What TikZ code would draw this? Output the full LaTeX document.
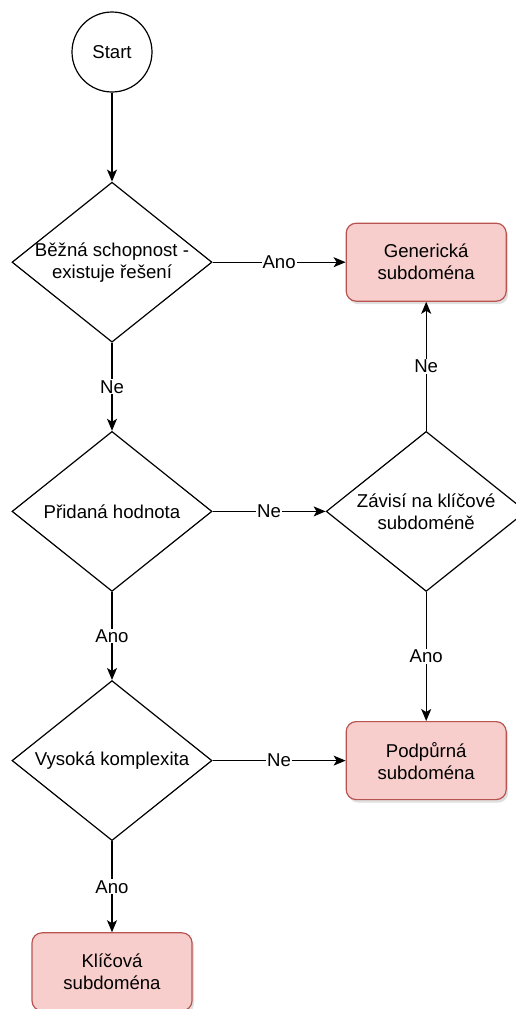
\documentclass[tikz,border=0pt]{standalone}
\usepackage{fontspec}
\setmainfont{Liberation Sans}
\usepackage{tikz}
\usetikzlibrary{positioning,shapes,arrows.meta,shadows}
\definecolor{boxfill}{HTML}{F8CECC}
\definecolor{boxline}{HTML}{B85450}
\tikzstyle{startnode}=[%
      circle, draw=black, line width=1.2pt, fill=white,
      minimum size=80pt, inner sep=0pt, align=center
]
\tikzstyle{question}=[%
      diamond, aspect=1.25, draw=black, line width=1.2pt, fill=white,
      minimum width=200pt, minimum height=160pt, inner sep=-12pt, align=center
]
\tikzstyle{subdomainbox}=[%
      rectangle, rounded corners=10pt, draw=boxline, line width=1.2pt, fill=boxfill,
      drop shadow={shadow xshift=2pt, shadow yshift=-3pt, opacity=0.25},
      minimum width=160pt, minimum height=78pt, inner sep=0pt, align=center
]
\tikzstyle{answer}=[fill=white, inner sep=1pt]

\begin{document}
\begin{tikzpicture}[x=1pt, y=-1pt,
    font=\fontsize{18.6}{22}\selectfont,
    line width=1.2pt,
    -{Stealth[length=12pt,width=10pt,inset=3pt]}
  ]
    \useasboundingbox (0,0) rectangle (515,1009);

    \node[startnode] (start) at (112,52) {Start};
    \node[question] (common)   [below = 89pt of start]  {Běžná schopnost -\\existuje řešení};
    \node[question] (value)    [below = 88pt of common] {Přidaná hodnota};
    \node[question] (complex)  [below = 88pt of value]  {Vysoká komplexita};
    \node[subdomainbox] (core)     [below = 91pt of complex] {Klíčová\\subdoména};
    \node[subdomainbox] (generic)  [right = 133pt of common] {Generická\\subdoména};
    \node[question] (depends)  [right = 113pt of value]  {Závisí na klíčové\\subdoméně};
    \node[subdomainbox] (support)  [right = 133pt of complex] {Podpůrná\\subdoména};

    \path (start) edge (common)
          (common) edge node[answer] {Ano} (generic)
          (common) edge node[answer] {Ne} (value)
          (value) edge node[answer] {Ne} (depends)
          (value) edge node[answer] {Ano} (complex)
          (depends) edge node[answer] {Ne} (generic)
          (depends) edge node[answer] {Ano} (support)
          (complex) edge node[answer] {Ne} (support)
          (complex) edge node[answer] {Ano} (core)
    ;

  \end{tikzpicture}
\end{document}
